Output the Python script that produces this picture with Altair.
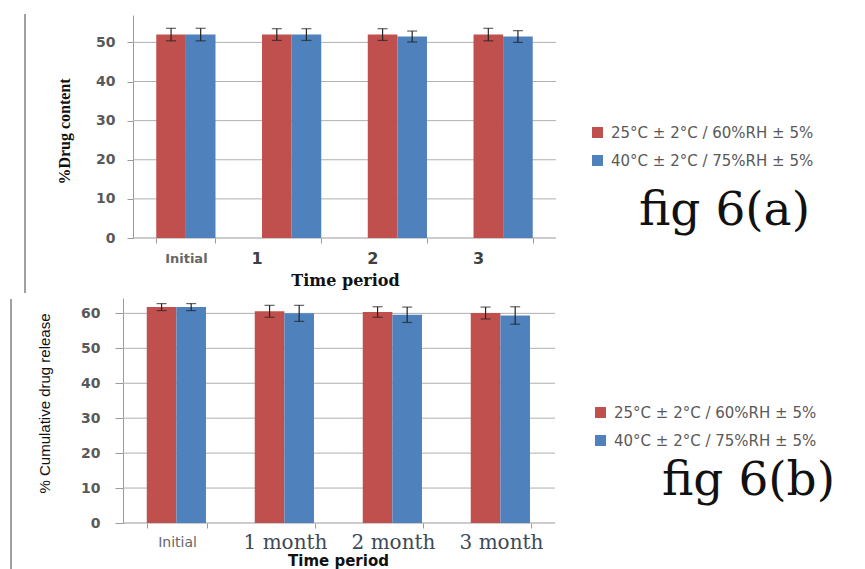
import altair as alt
import pandas as pd

conditions = ["25°C ± 2°C / 60%RH ± 5%", "40°C ± 2°C / 75%RH ± 5%"]
colors = ["#C0504D", "#4F81BD"]

# fig 6(a): % drug content
periods_a = ["Initial", "1", "2", "3"]
drug_content_25 = [52.0, 52.0, 52.0, 52.0]
drug_content_40 = [52.0, 52.0, 51.5, 51.5]
drug_content_err_25 = [1.6, 1.5, 1.5, 1.6]
drug_content_err_40 = [1.6, 1.5, 1.4, 1.5]
y_ticks_a = [0, 10, 20, 30, 40, 50]

# fig 6(b): % cumulative drug release
periods_b = ["Initial", "1 month", "2 month", "3 month"]
release_25 = [61.8, 60.6, 60.4, 60.1]
release_40 = [61.8, 60.0, 59.6, 59.4]
release_err_25 = [1.0, 1.7, 1.5, 1.7]
release_err_40 = [1.0, 2.3, 2.2, 2.5]
y_ticks_b = [0, 10, 20, 30, 40, 50, 60]


def long_table(periods, v25, v40, e25, e40):
    rows = []
    for cond, vals, errs in ((conditions[0], v25, e25), (conditions[1], v40, e40)):
        for p, v, e in zip(periods, vals, errs):
            rows.append({"period": p, "cond": cond, "value": v, "lo": v - e, "hi": v + e})
    return pd.DataFrame(rows)


GRID = "#B0B0B0"
AX = "#9A9A9A"


def panel(df, periods, ticks, ymax, width, height, shift, y_title, y_title_font,
          y_title_size, y_title_weight, y_title_x, y_title_y, x_axis_kwargs,
          x_title_font, x_title_size, x_title_x, x_title_y, y_tick, y_lab_pad,
          legend_x, legend_y, fig_label, fig_x, fig_y, frame_x, frame_y1, frame_y2):
    x_enc = alt.X(
        "period:N", sort=periods, title="Time period",
        scale=alt.Scale(range=[shift, width], paddingInner=0.44, paddingOuter=0.22),
        axis=alt.Axis(domain=False, tickBand="extent", tickSize=5, tickColor=AX,
                      labelAngle=0, labelBaseline="middle",
                      titleFont=x_title_font, titleFontSize=x_title_size,
                      titleFontWeight="bold", titleColor="#111",
                      titleX=x_title_x, titleY=x_title_y, titleBaseline="alphabetic",
                      **x_axis_kwargs),
    )
    yscale = alt.Scale(domain=[0, ymax], nice=False)
    yaxis = alt.Axis(values=ticks, offset=-shift, grid=False, domainColor=AX,
                     tickColor=AX, tickSize=y_tick, labelPadding=y_lab_pad,
                     labelFont="DejaVu Sans", labelFontWeight="bold", labelFontSize=14,
                     labelColor="#595959", titleFont=y_title_font,
                     titleFontSize=y_title_size, titleFontWeight=y_title_weight,
                     titleColor="#111", titleX=y_title_x, titleY=y_title_y,
                     titleBaseline="middle", titleAngle=270)

    def yv(field):
        return alt.Y(field, scale=yscale, axis=yaxis, title=y_title)

    xo = alt.XOffset("cond:N", sort=conditions)
    base = alt.Chart(df)

    grid = alt.Chart(pd.DataFrame({"value": ticks[1:]})).mark_rule(
        color=GRID, strokeWidth=1).encode(y=yv("value:Q"), x=alt.value(shift), x2=alt.value(width))
    xdom = alt.Chart(pd.DataFrame({"value": [0]})).mark_rule(
        color=AX, strokeWidth=1).encode(y=yv("value:Q"), x=alt.value(shift), x2=alt.value(width))

    bars = base.mark_bar().encode(
        x=x_enc, xOffset=xo, y=yv("value:Q"),
        color=alt.Color("cond:N", scale=alt.Scale(domain=conditions, range=colors),
                        legend=alt.Legend(title=None, orient="none", legendX=legend_x,
                                          legendY=legend_y, symbolType="square",
                                          symbolSize=120, symbolStrokeWidth=0,
                                          labelFont="DejaVu Sans", labelFontSize=15,
                                          labelColor="#595959", labelLimit=400,
                                          rowPadding=12, labelOffset=6)),
    )
    err = base.mark_rule(color="#222", strokeWidth=1.2).encode(
        x=x_enc, xOffset=xo, y=yv("lo:Q"), y2="hi:Q")
    cap_hi = base.mark_tick(color="#222", thickness=1.2, size=10).encode(
        x=x_enc, xOffset=xo, y=yv("hi:Q"))
    cap_lo = base.mark_tick(color="#222", thickness=1.2, size=10).encode(
        x=x_enc, xOffset=xo, y=yv("lo:Q"))

    frame = alt.Chart(pd.DataFrame({"k": [0]})).mark_rule(color="#A0A0A0", strokeWidth=2).encode(
        x=alt.value(frame_x), y=alt.value(frame_y1), y2=alt.value(frame_y2))
    fig = alt.Chart(pd.DataFrame({"label": [fig_label]})).mark_text(
        font="DejaVu Serif", fontSize=47, align="left", baseline="alphabetic", color="#111"
    ).encode(text="label:N", x=alt.value(fig_x), y=alt.value(fig_y))

    return alt.layer(grid, xdom, bars, err, cap_hi, cap_lo, frame, fig).properties(
        width=width, height=height)


df_a = long_table(periods_a, drug_content_25, drug_content_40,
                  drug_content_err_25, drug_content_err_40)
df_b = long_table(periods_b, release_25, release_40, release_err_25, release_err_40)

top = panel(
    df_a, periods_a, y_ticks_a, 57, 433, 223, 10,
    "%Drug content", "Liberation Serif", 16, "bold", -69, 116,
    dict(labelPadding=15, labelFont="DejaVu Sans", labelFontWeight="bold",
         labelFontSize={"condition": {"test": "datum.value === 'Initial'", "value": 13}, "value": 16},
         labelColor={"condition": {"test": "datum.value === 'Initial'", "value": "#666666"}, "value": "#404040"},
         labelOffset={"condition": [{"test": "datum.value === '1'", "value": -35},
                                    {"test": "datum.value === 'Initial'", "value": 0}], "value": -25}),
    "DejaVu Serif", 16, 222, 47, 6, 12,
    467, 110, "fig 6(a)", 516, 210, -98, -1, 278,
)

bottom = panel(
    df_b, periods_b, y_ticks_b, 64.4, 432, 225, 0,
    "% Cumulative drug release", "Liberation Sans", 15, "normal", -79, 105,
    dict(labelPadding=14,
         labelFont={"condition": {"test": "datum.value === 'Initial'", "value": "DejaVu Sans"}, "value": "DejaVu Serif"},
         labelFontSize={"condition": {"test": "datum.value === 'Initial'", "value": 14}, "value": 20},
         labelColor={"condition": {"test": "datum.value === 'Initial'", "value": "#666666"}, "value": "#3d4a55"}),
    "DejaVu Sans", 15, 215, 42, 8, 15,
    470, 107, "fig 6(b)", 539, 197, -112, 1, 271,
)

chart = alt.vconcat(top, bottom, spacing=60, bounds="flush").resolve_scale(
    color="independent", x="independent", y="independent"
).resolve_legend(color="independent").properties(
    padding={"left": 2, "top": 5, "right": 5, "bottom": 0}, background="white"
).configure_view(stroke=None)

chart.save("out.html", embed_options={"renderer": "svg", "actions": False})
